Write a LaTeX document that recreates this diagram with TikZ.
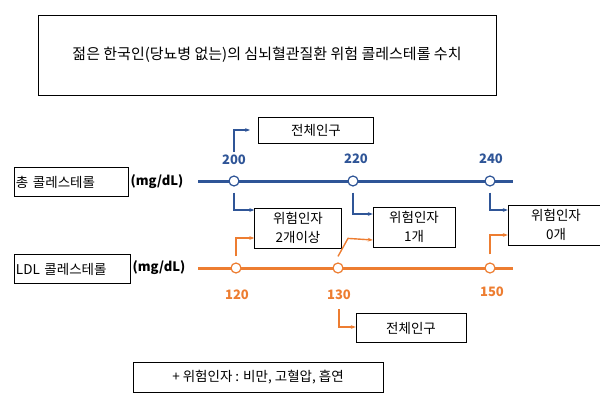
\documentclass[tikz,border=0pt]{standalone}
\usepackage{fontspec}
\setmainfont{Noto Sans CJK KR}
\usepackage{tikz}
\usetikzlibrary{positioning,arrows.meta}
\definecolor{tcblue}{RGB}{47,85,151}
\definecolor{ldlorange}{RGB}{237,125,49}
\tikzset{
  box/.style = {draw, shape = rectangle, inner sep = 0pt, font = \fontsize{13.5}{19}\selectfont, align = center},
  mark circ/.style = {draw, fill = white, circle, inner sep = 0pt, minimum size = 10pt, line width = 1.2pt},
  val/.style = {font = \fontsize{13}{15}\selectfont\bfseries},
  pointer/.style = {line width = 1.4pt, -{Stealth[length=5pt]}}
}
\begin{document}
\begin{tikzpicture}[x = 1pt, y = 1pt]
\useasboundingbox (0,0) rectangle (600,416);
% title
\node[box, minimum width = 458pt, minimum height = 80pt, font = \fontsize{15}{18}\selectfont] (title) at (267,361) {젊은 한국인(당뇨병 없는)의 심뇌혈관질환 위험 콜레스테롤 수치};
% total cholesterol
\node[box, minimum width = 114pt, minimum height = 29pt, align = left, text width = 110pt] (tcname) at (71,234) {총 콜레스테롤};
\node[val] (tcunit) at (157,234) {(mg/dL)};
\coordinate (tcstart) at (198,235);
\coordinate (tcend) at (513,235);
\draw[tcblue, line width = 3pt] (tcstart) -- (tcend);
\node[mark circ, draw = tcblue] (tc200) at (234,235) {};
\node[mark circ, draw = tcblue] (tc220) at (353,235) {};
\node[mark circ, draw = tcblue] (tc240) at (490,235) {};
\node[val, text = tcblue] (l200) at (234,256) {200};
\node[val, text = tcblue] (l220) at (356,257) {220};
\node[val, text = tcblue] (l240) at (491,257) {240};
\node[box, minimum width = 115pt, minimum height = 26pt] (allup) at (316,286) {전체인구};
\node[box, minimum width = 87pt, minimum height = 40pt] (risk2) at (298,188) {위험인자\\2개이상};
\node[box, minimum width = 82pt, minimum height = 40pt] (risk1) at (414,189) {위험인자\\1개};
\node[box, minimum width = 96pt, minimum height = 40pt] (risk0) at (556,191) {위험인자\\0개};
\draw[pointer, tcblue] (l200.north) |- (allup.west -| 250,0);
\draw[pointer, tcblue] (tc200.south) ++(0,-6) |- (risk2.west |- 0,206);
\draw[pointer, tcblue] (tc220.south) ++(0,-6) |- (risk1.west |- 0,202);
\draw[pointer, tcblue] (tc240.south) ++(0,-6) |- (risk0.west |- 0,206);
% LDL cholesterol
\node[box, minimum width = 116pt, minimum height = 29pt, align = left, text width = 112pt] (ldlname) at (72,147) {LDL 콜레스테롤};
\node[val] (ldlunit) at (159,148) {(mg/dL)};
\coordinate (ldlstart) at (198,148);
\coordinate (ldlend) at (513,148);
\draw[ldlorange, line width = 3pt] (ldlstart) -- (ldlend);
\node[mark circ, draw = ldlorange] (ldl120) at (236,148) {};
\node[mark circ, draw = ldlorange] (ldl130) at (338,148) {};
\node[mark circ, draw = ldlorange] (ldl150) at (490,148) {};
\node[val, text = ldlorange] (l120) at (237,121) {120};
\node[val, text = ldlorange] (l130) at (339,121) {130};
\node[val, text = ldlorange] (l150) at (492,124) {150};
\node[box, minimum width = 110pt, minimum height = 29pt] (alldown) at (411,88) {전체인구};
\draw[pointer, ldlorange] (ldl120.north) ++(0,6) |- (risk2.west |- 0,178);
\draw[pointer, ldlorange] (ldl130.north) ++(0,6) -- ++(10,18) -- (risk1.west |- 0,176);
\draw[pointer, ldlorange] (ldl150.north) ++(0,8) |- (risk0.west |- 0,181);
\draw[pointer, ldlorange] (l130.south) ++(0,-6) |- (alldown.west |- 0,89);
% legend
\node[box, minimum width = 250pt, minimum height = 30pt] (legend) at (258,39) {+ 위험인자 : 비만, 고혈압, 흡연};
\end{tikzpicture}
\end{document}
